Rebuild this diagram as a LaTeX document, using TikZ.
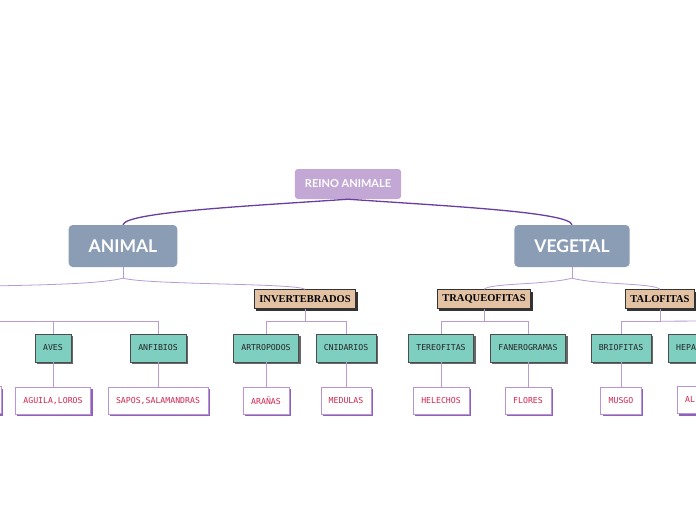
\documentclass[tikz,border=0pt]{standalone}
\usepackage{fontspec}
\setmainfont{Lato}
\newfontfamily\boxserif{Liberation Serif}
\newfontfamily\pixelfont{DejaVu Sans Mono}
\usepackage{xcolor}
\usetikzlibrary{positioning, shadows}

\definecolor{lilac}{HTML}{C3A8D5}
\definecolor{slate}{HTML}{8B9DB5}
\definecolor{tanbox}{HTML}{E3C2A4}
\definecolor{tealbox}{HTML}{7ECFC0}
\definecolor{leafline}{HTML}{B995D6}
\definecolor{leafshadow}{HTML}{8E62B8}
\definecolor{leaftext}{HTML}{D42550}
\definecolor{mainline}{HTML}{6A3DA0}
\definecolor{subline}{HTML}{B79BD3}

\begin{document}
\begin{tikzpicture}[
  x=1pt, y=-1pt,
  rootbox/.style = {rectangle, rounded corners=3pt, fill=lilac, text=white,
                    font=\bfseries\fontsize{11}{13}\selectfont,
                    inner xsep=10pt, minimum height=30pt},
  kingbox/.style = {rectangle, rounded corners=4pt, fill=slate, text=white,
                    font=\bfseries\fontsize{17.5}{20}\selectfont,
                    inner xsep=20pt, minimum height=42pt},
  classbox/.style = {rectangle, draw=black!80, fill=tanbox,
                     font=\boxserif\bfseries\fontsize{10.5}{12}\selectfont,
                     inner xsep=5pt, minimum height=19pt,
                     drop shadow={shadow xshift=2pt, shadow yshift=-2pt,
                                  opacity=1, fill=black!80}},
  typebox/.style = {rectangle, draw=black!70, fill=tealbox, text=black!85,
                    font=\pixelfont\fontsize{8.2}{10}\selectfont,
                    inner xsep=8pt, minimum height=28pt,
                    drop shadow={shadow xshift=2pt, shadow yshift=-2pt,
                                 opacity=1, fill=black!60}},
  examplebox/.style = {rectangle, draw=leafline, fill=white, text=leaftext,
                       font=\pixelfont\fontsize{8.2}{10}\selectfont,
                       inner xsep=8pt, minimum height=27pt,
                       drop shadow={shadow xshift=2pt, shadow yshift=-2pt,
                                    opacity=1, fill=leafshadow}},
  trunk/.style = {draw=mainline, line width=1.3pt},
  branch/.style = {draw=subline, line width=0.8pt}
]
  \useasboundingbox (0,0) rectangle (696,520);
  \clip (0,0) rectangle (696,520);

  % top levels
  \node[rootbox] (reino)   at (348,184) {REINO ANIMALE};
  \node[kingbox] (animal)  at (123,246) {ANIMAL};
  \node[kingbox] (vegetal) at (572,246) {VEGETAL};

  \node[classbox] (invert) at (305,299) {INVERTEBRADOS};
  \node[classbox] (traq)   at (484,299) {TRAQUEOFITAS};
  \node[classbox] (talo)   at (660,299) {TALOFITAS};

  % groups
  \node[typebox] (aves)   at (53,348)  {AVES};
  \node[typebox] (anfib)  at (158,348) {ANFIBIOS};
  \node[typebox] (artro)  at (266,348) {ARTROPODOS};
  \node[typebox] (cnid)   at (346,348) {CNIDARIOS};
  \node[typebox] (tereo)  at (441,348) {TEREOFITAS};
  \node[typebox] (fanero) at (528,348) {FANEROGRAMAS};
  \node[typebox] (brio)   at (621,348) {BRIOFITAS};
  \node[typebox, anchor=west] (hepa) at (668,348) {HEPA};

  % examples
  \node[examplebox, anchor=east, minimum width=40pt] (leafcut) at (1,400) {};
  \node[examplebox, below=25pt of aves]   (aguila)  {AGUILA,LOROS};
  \node[examplebox, below=25pt of anfib]  (sapos)   {SAPOS,SALAMANDRAS};
  \node[examplebox, below=25pt of artro]  (aranas)  {ARAÑAS};
  \node[examplebox, below=25pt of cnid]   (medulas) {MEDULAS};
  \node[examplebox, below=25pt of tereo]  (helechos){HELECHOS};
  \node[examplebox, below=25pt of fanero] (flores)  {FLORES};
  \node[examplebox, below=25pt of brio]   (musgo)   {MUSGO};
  \node[examplebox, anchor=west] (algas) at (677,400) {AL};

  % trunk lines
  \draw[trunk] (reino.south) .. controls (250,206) and (125,212) .. (animal.north);
  \draw[trunk] (reino.south) .. controls (446,206) and (570,212) .. (vegetal.north);

  % animal branches
  \coordinate (vertcut) at (-10,286);
  \draw[branch] (animal.south) -- ++(0,11) coordinate (animalfork);
  \draw[branch] (animalfork) .. controls (100,284) and (40,285) .. (vertcut);
  \draw[branch] (animalfork) .. controls (150,285) and (296,283) .. (invert.north);

  \coordinate (vertbus) at (-10,321);
  \draw[branch] (vertbus) -| (aves.north);
  \draw[branch] (vertbus) -| (anfib.north);
  \draw[branch] (invert.south) -- ++(0,12.5) coordinate (invfork) -| (artro.north);
  \draw[branch] (invfork) -| (cnid.north);

  % vegetal branches
  \draw[branch] (vegetal.south) -- ++(0,11) coordinate (vegfork);
  \draw[branch] (vegfork) .. controls (545,285) and (490,283) .. (traq.north);
  \draw[branch] (vegfork) .. controls (599,285) and (654,283) .. (talo.north);

  \draw[branch] (traq.south) -- ++(0,12.5) coordinate (traqfork) -| (tereo.north);
  \draw[branch] (traqfork) -| (fanero.north);
  \coordinate (talocut) at (710,321);
  \draw[branch] (talo.south) -- ++(0,12.5) coordinate (talofork) -| (brio.north);
  \draw[branch] (talofork) -- (talocut);

  % leaves
  \draw[branch] (aves.south)   -- (aguila.north);
  \draw[branch] (anfib.south)  -- (sapos.north);
  \draw[branch] (artro.south)  -- (aranas.north);
  \draw[branch] (cnid.south)   -- (medulas.north);
  \draw[branch] (tereo.south)  -- (helechos.north);
  \draw[branch] (fanero.south) -- (flores.north);
  \draw[branch] (brio.south)   -- (musgo.north);
\end{tikzpicture}
\end{document}
